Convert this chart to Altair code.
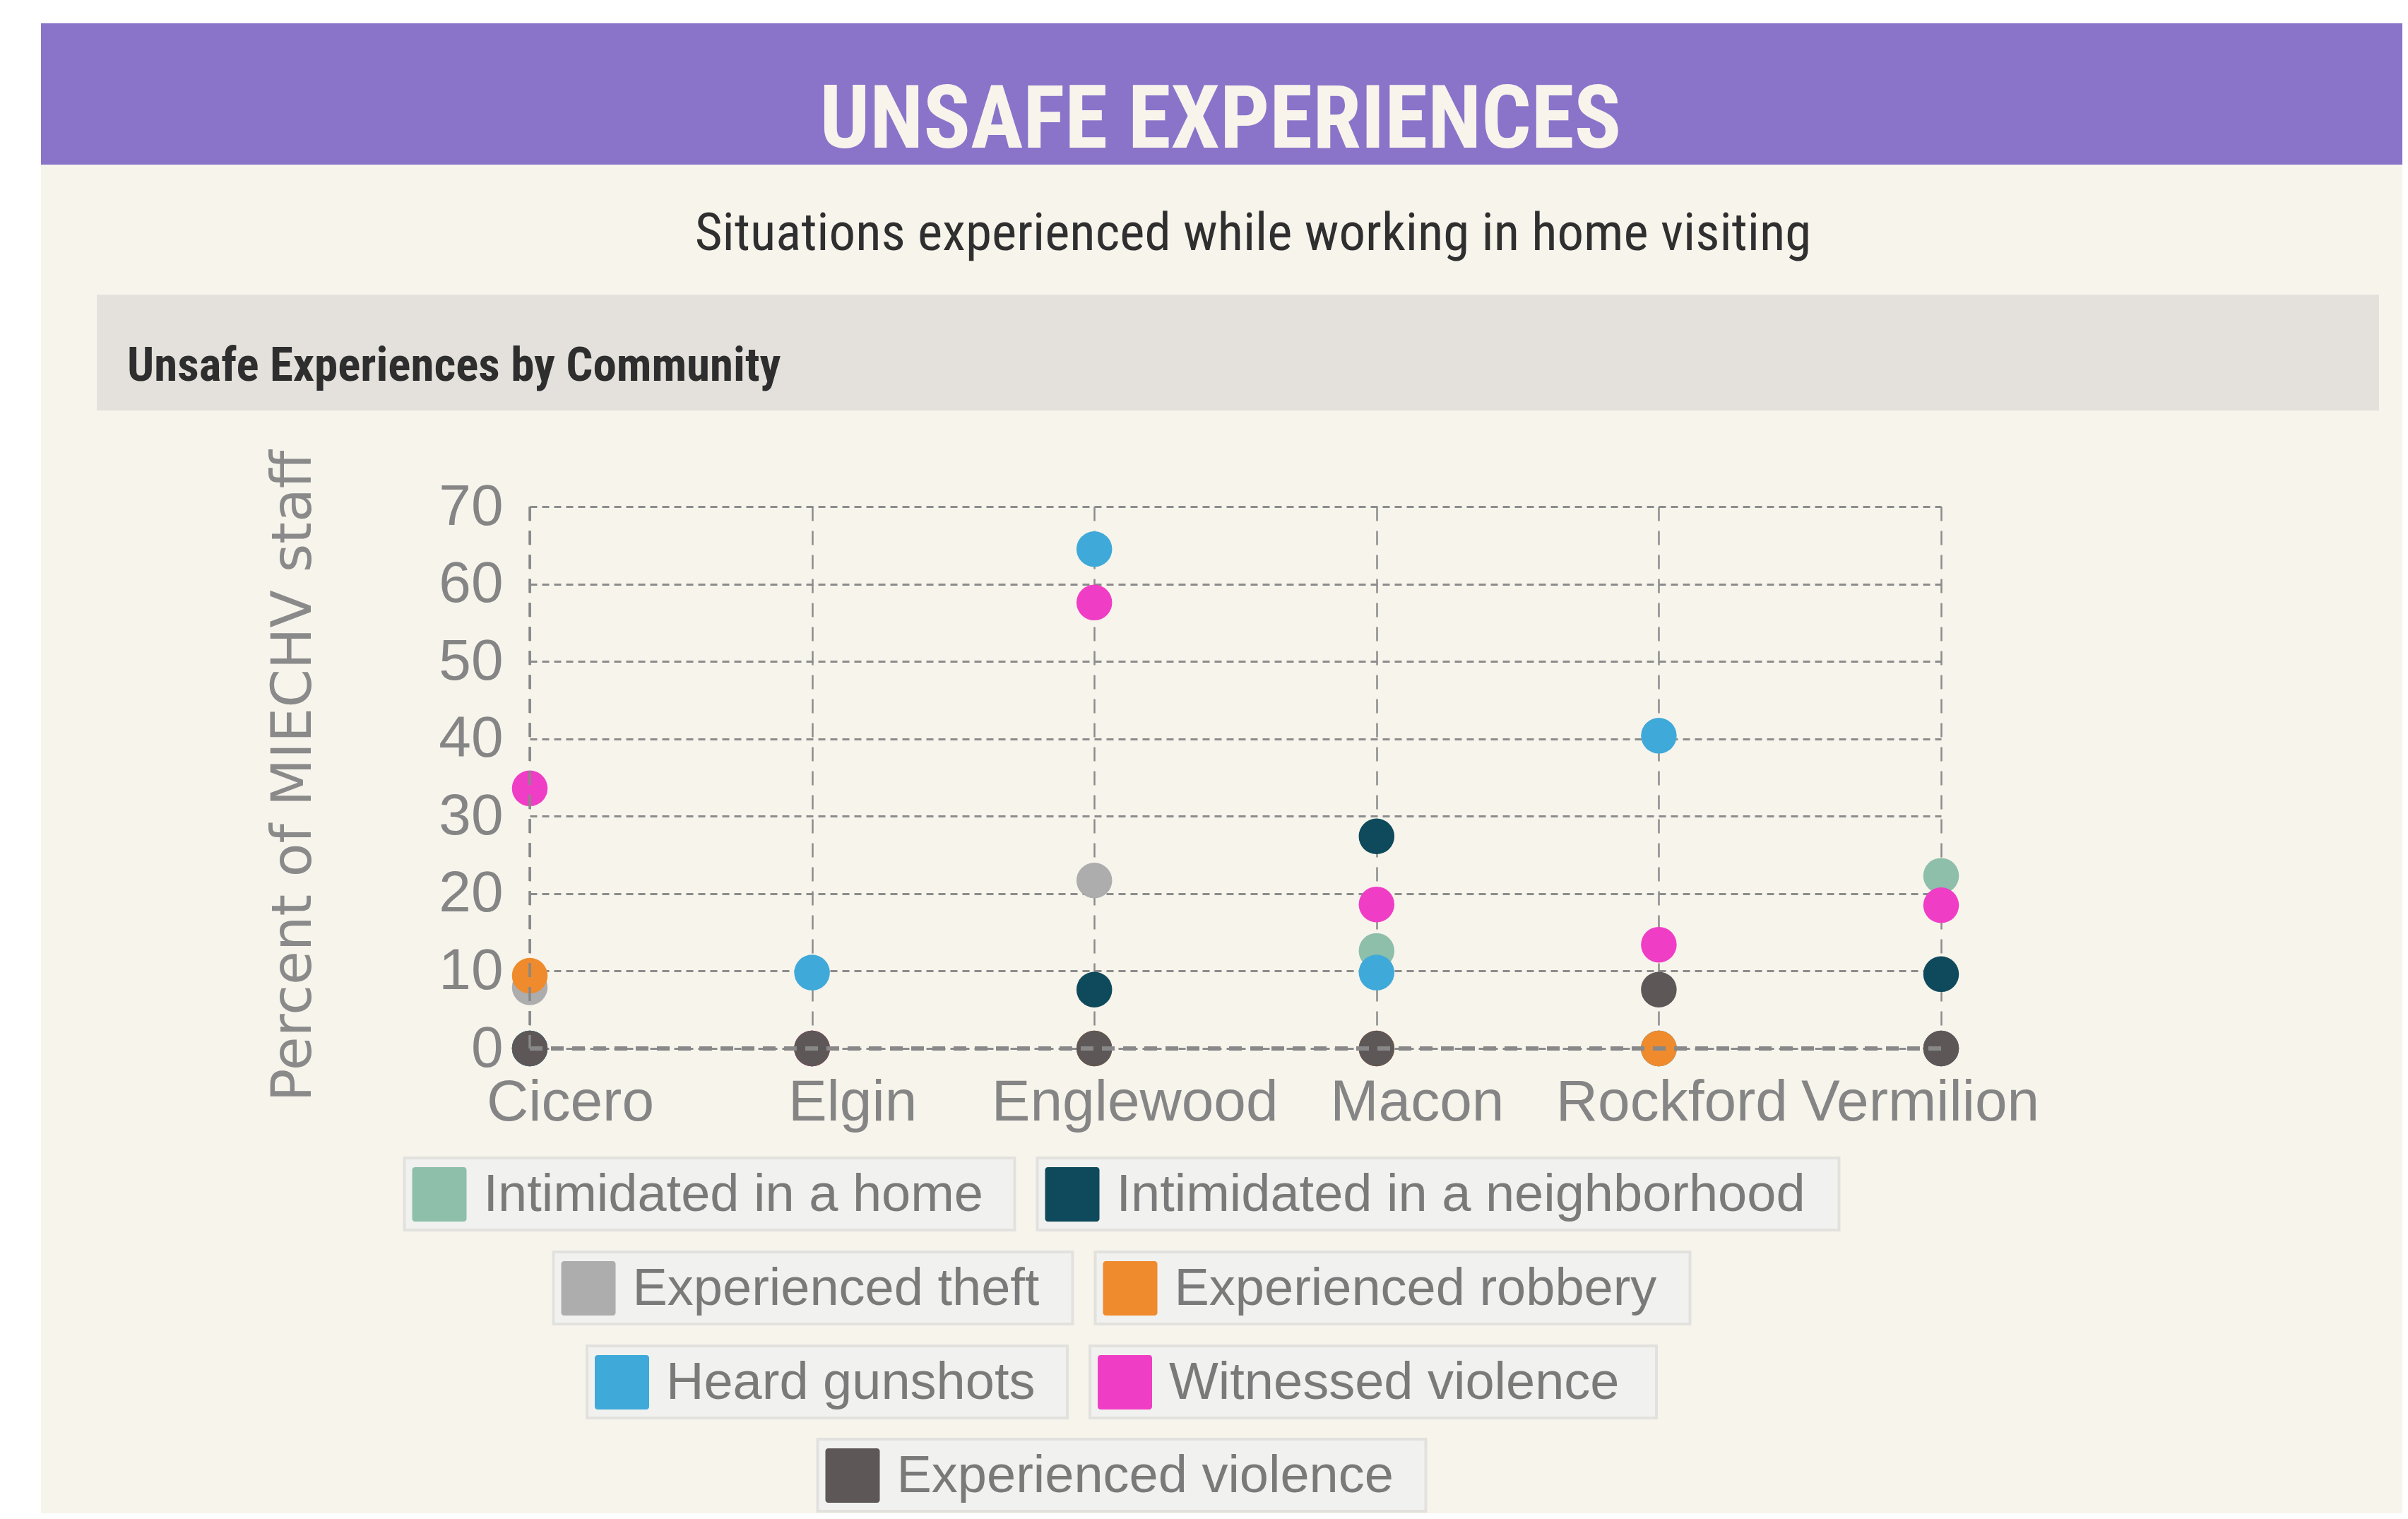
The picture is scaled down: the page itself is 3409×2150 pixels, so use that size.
import altair as alt
import pandas as pd

# ---------------- data ----------------
communities = ["Cicero", "Elgin", "Englewood", "Macon", "Rockford", "Vermilion"]
series_names = [
    "Intimidated in a home",
    "Intimidated in a neighborhood",
    "Experienced theft",
    "Experienced robbery",
    "Heard gunshots",
    "Witnessed violence",
    "Experienced violence",
]
series_colors = ["#8dbfab", "#0e4a5b", "#adadad", "#ef8b2c", "#3fa9d9", "#ef3ec5", "#5e5758"]

intimidated_home = [0, 0, 0, 12.6, 0, 22.3]
intimidated_neighborhood = [0, 0, 7.6, 27.4, 0, 9.6]
experienced_theft = [7.9, 0, 21.7, 0, 0, 0]
experienced_robbery = [9.4, 0, 0, 0, 0, 0]
heard_gunshots = [0, 9.8, 64.5, 9.8, 40.4, 0]
witnessed_violence = [33.6, 0, 57.6, 18.6, 13.4, 18.5]
experienced_violence = [0, 0, 0, 0, 7.6, 0]

y_ticks = [0, 10, 20, 30, 40, 50, 60, 70]

title_text = "UNSAFE EXPERIENCES"
subtitle_text = "Situations experienced while working in home visiting"
section_text = "Unsafe Experiences by Community"
y_title = "Percent of MIECHV staff"

all_values = [intimidated_home, intimidated_neighborhood, experienced_theft,
              experienced_robbery, heard_gunshots, witnessed_violence, experienced_violence]

rows = []
for name, vals in zip(series_names, all_values):
    for c, v in zip(communities, vals):
        rows.append({"community": c, "series": name, "value": v})
df = pd.DataFrame(rows)

# ---------------- styles / layout ----------------
W, H = 1998, 767
CREAM = "#f7f4ec"
PURPLE = "#8a74c9"
BAR = "#e4e1dc"
GRID = "#8c8c8c"
LABEL = "#858585"
COND = "Roboto Condensed, Liberation Sans"
SANS = "Liberation Sans, Arial, sans-serif"

one = pd.DataFrame({"k": [0]})


def rect(x, x2, y, y2, color, **kw):
    return alt.Chart(one).mark_rect(color=color, **kw).encode(
        x=alt.value(x), x2=alt.value(x2), y=alt.value(y), y2=alt.value(y2))


def text(txt, x, y, **kw):
    return alt.Chart(pd.DataFrame({"t": [txt]})).mark_text(**kw).encode(
        x=alt.value(x), y=alt.value(y), text="t:N")


layers = []
# white page strips (left/top) outside the cream panel
layers.append(rect(-742, -692, -709, 1425, "white"))
layers.append(rect(-742, 2651, -709, -684, "white"))
# purple banner and title
layers.append(rect(-692, 2651, -684, -484, PURPLE))
layers.append(text(title_text, 978, -508, font=COND, fontSize=124, fontWeight="bold",
                   color="#f8f4ec", align="center", baseline="alphabetic"))
layers.append(text(subtitle_text, 1024, -363, font=COND, fontSize=75,
                   color="#2f2f2f", align="center", baseline="alphabetic"))
# section bar
layers.append(rect(-613, 2618, -300, -136, BAR))
layers.append(text(section_text, -570, -178, font=COND, fontSize=67, fontWeight="bold",
                   color="#2e2e2e", align="left", baseline="alphabetic"))

# legend (custom boxed items)
legend_rows = [[0, 1], [2, 3], [4, 5], [6]]
legend_box_widths = [864, 1135, 735, 842, 680, 802, 861]
row_tops = [922, 1055, 1188, 1320]
box_h, gap, center_x = 102, 32, 838
for r, idxs in enumerate(legend_rows):
    total = sum(legend_box_widths[i] for i in idxs) + gap * (len(idxs) - 1)
    left = center_x - total / 2
    top = row_tops[r]
    for i in idxs:
        w = legend_box_widths[i]
        layers.append(rect(left, left + w, top, top + box_h, "#f1f1ef",
                           stroke="#e2e1de", strokeWidth=4))
        layers.append(rect(left + 11, left + 88, top + 13, top + 90, series_colors[i],
                           cornerRadius=4))
        layers.append(text(series_names[i], left + 112, top + box_h / 2 + 2, font=SANS,
                           fontSize=74, color="#7a7a7a", align="left", baseline="middle"))
        left += w + gap

# ---------------- main plot ----------------
x_enc = alt.X(
    "community:N",
    sort=communities,
    scale=alt.Scale(type="point", padding=0, domain=communities),
    axis=alt.Axis(
        title=None, grid=True, gridDash=[20, 14], gridWidth=2.5, gridColor=GRID,
        domain=False, ticks=False, labelFont=SANS, labelFontSize=82, labelColor=LABEL,
        labelPadding=36, labelOverlap=False, labelAngle=0, labelLimit=0,
        labelOffset={"condition": [
            {"test": "datum.value == 'Rockford'", "value": 18},
            {"test": "datum.value == 'Vermilion'", "value": -30}],
            "value": 57},
    ),
)
y_enc = alt.Y(
    "value:Q",
    scale=alt.Scale(domain=[0, 70], nice=False, zero=True),
    axis=alt.Axis(
        values=y_ticks, title=y_title, titleFont="DejaVu Sans", titleFontSize=78,
        titleFontWeight="normal", titleColor="#8a8a8a", titleX=-311, titleY=381,
        titleBaseline="alphabetic", titleAlign="center", titleAngle=270,
        grid=True, gridDash=[10, 7], gridWidth=3, gridColor=GRID,
        domain=False, ticks=False, labelFont=SANS, labelFontSize=82,
        labelColor=LABEL, labelPadding=38,
    ),
)

points = alt.Chart(df).mark_circle(size=2550, opacity=1).encode(
    x=x_enc,
    y=y_enc,
    color=alt.Color("series:N", scale=alt.Scale(domain=series_names, range=series_colors),
                    legend=None),
)

base_rule = alt.Chart(pd.DataFrame({"v": [y_ticks[0]]})).mark_rule(
    color="#888888", strokeWidth=6, strokeDash=[18, 12]).encode(y=alt.Y("v:Q"))
left_rule = alt.Chart(pd.DataFrame({"c": [communities[0]]})).mark_rule(
    color="#888888", strokeWidth=3.5, strokeDash=[20, 14]).encode(x=alt.X("c:N"))

layers += [points, base_rule, left_rule]

chart = alt.layer(*layers).properties(
    width=W, height=H, background=CREAM, padding=0,
).configure_view(stroke=None)

chart.save("out.html", embed_options={"renderer": "svg", "actions": False})
